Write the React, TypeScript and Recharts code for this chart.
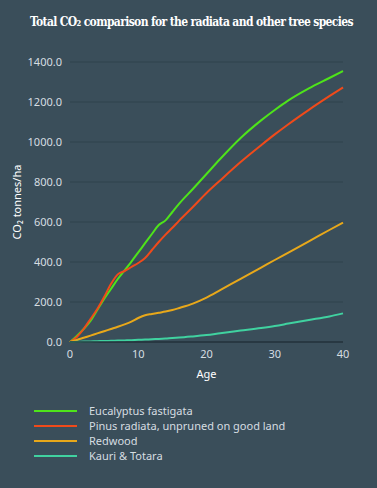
import { LineChart, Line, XAxis, YAxis, CartesianGrid, Label } from "recharts";

const ages = [0, 1, 2, 3, 4, 5, 6, 7, 8, 9, 10, 11, 12, 13, 14, 15, 16, 18, 20, 22, 25, 28, 30, 32, 35, 38, 40];
const eucalyptus = [0, 30, 65, 105, 160, 215, 265, 315, 358, 402, 448, 494, 540, 585, 608, 650, 692, 765, 840, 915, 1020, 1108, 1160, 1208, 1268, 1320, 1355];
const pinus = [0, 25, 65, 115, 165, 225, 290, 338, 355, 375, 395, 420, 460, 500, 537, 571, 607, 675, 745, 808, 900, 984, 1038, 1089, 1161, 1229, 1273];
const redwood = [0, 10, 21, 32, 43, 54, 65, 76, 88, 102, 120, 134, 140, 146, 152, 160, 170, 192, 222, 259, 316, 372, 410, 447, 503, 560, 597];
const kauri = [0, 1, 2, 3, 4, 5, 6, 7, 8, 9, 11, 12, 14, 15, 17, 20, 22, 28, 35, 44, 57, 70, 80, 92, 110, 128, 143];

const xTicks = [0, 10, 20, 30, 40];
const yTicks = [0, 200, 400, 600, 800, 1000, 1200, 1400];

const series = [
  { key: "eucalyptus", name: "Eucalyptus fastigata", color: "#4ee41a" },
  { key: "pinus", name: "Pinus radiata, unpruned on good land", color: "#f04a1a" },
  { key: "redwood", name: "Redwood", color: "#e8a81a" },
  { key: "kauri", name: "Kauri & Totara", color: "#40d2a0" },
];

const data = ages.map((age, i) => ({
  age,
  eucalyptus: eucalyptus[i],
  pinus: pinus[i],
  redwood: redwood[i],
  kauri: kauri[i],
}));

const bg = "#3a4e5a";
const textColor = "#d6dde1";
const sans = "'Noto Sans', sans-serif";

export default function App() {
  return (
    <div style={{ position: "relative", width: 377, height: 488, background: bg, overflow: "hidden" }}>
      <style>{"body{margin:0}"}</style>
      <div
        style={{
          position: "absolute",
          left: 30,
          top: 15,
          color: "#ffffff",
          fontFamily: "'DejaVu Serif Condensed', 'DejaVu Serif', serif",
          fontWeight: "bold",
          fontSize: 12,
          letterSpacing: -0.65,
          whiteSpace: "nowrap",
        }}
      >
        Total CO₂ comparison for the radiata and other tree species
      </div>
      <div style={{ position: "absolute", left: 0, top: 0 }}>
        <LineChart width={377} height={390} data={data} margin={{ top: 62, right: 34, left: 20, bottom: 8 }}>
          <CartesianGrid vertical={false} stroke="#2f424d" strokeWidth={1} />
          <XAxis
            dataKey="age"
            type="number"
            domain={[0, 40]}
            ticks={xTicks}
            height={40}
            tickLine={false}
            axisLine={{ stroke: "#24333c", strokeWidth: 1.5 }}
            tick={{ fill: textColor, fontSize: 11, fontFamily: sans }}
          >
            <Label value="Age" position="insideBottom" offset={4} fill="#ffffff" fontSize={11} fontFamily={sans} />
          </XAxis>
          <YAxis
            type="number"
            domain={[0, 1400]}
            ticks={yTicks}
            width={50}
            tickLine={false}
            axisLine={false}
            tickFormatter={(v: number) => v.toFixed(1)}
            tick={{ fill: textColor, fontSize: 11, fontFamily: sans }}
          >
            <Label
              value="CO₂ tonnes/ha"
              angle={-90}
              position="insideLeft"
              offset={-3}
              style={{ textAnchor: "middle" }}
              fill="#ffffff"
              fontSize={11}
              fontFamily={sans}
            />
          </YAxis>
          {series.map((s) => (
            <Line
              key={s.key}
              type="monotone"
              dataKey={s.key}
              name={s.name}
              stroke={s.color}
              strokeWidth={2}
              dot={false}
              isAnimationActive={false}
            />
          ))}
        </LineChart>
      </div>
      <div style={{ position: "absolute", left: 34, top: 403 }}>
        {series.map((s) => (
          <div key={s.key} style={{ display: "flex", alignItems: "center", height: 15 }}>
            <div style={{ width: 43, height: 2, background: s.color, marginRight: 12 }} />
            <span style={{ color: textColor, fontFamily: sans, fontSize: 11 }}>{s.name}</span>
          </div>
        ))}
      </div>
    </div>
  );
}
